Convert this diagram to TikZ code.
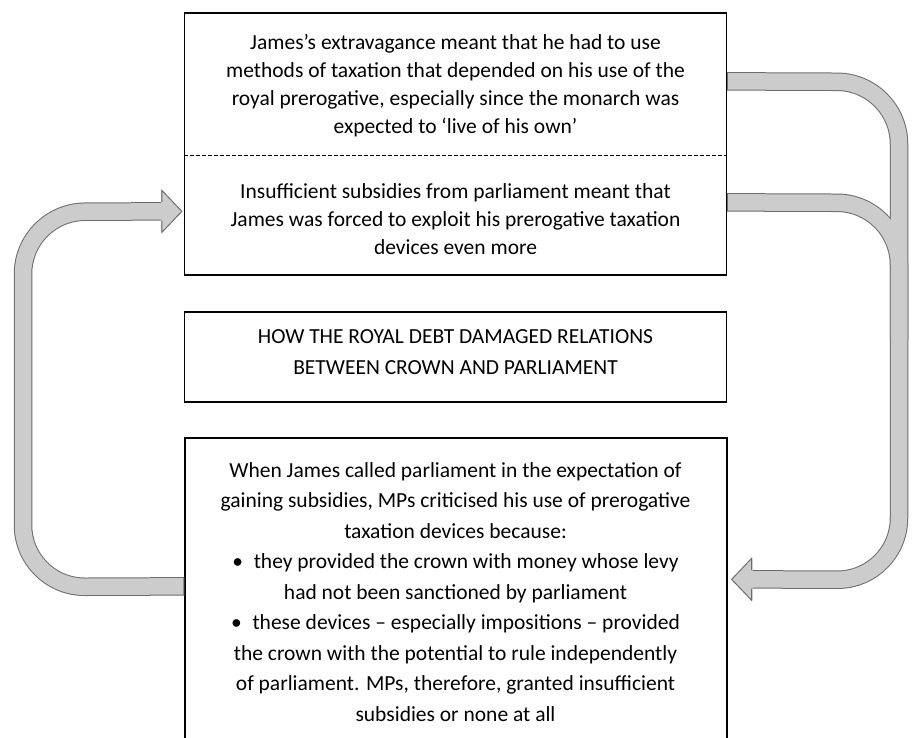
\documentclass[tikz,border=0pt]{standalone}
\usepackage{fontspec}
\setmainfont{Carlito}
\usetikzlibrary{calc}
\definecolor{bandedge}{gray}{0.42}
\definecolor{bandfill}{gray}{0.8}
\tikzset{
  x=1pt, y=-1pt,
  boxed/.style={draw, line width=1.3pt, inner sep=0pt, minimum width=542pt},
  txt/.style={align=center, inner sep=0pt, font=\fontsize{21.5}{28}\selectfont},
  txtb/.style={align=center, inner sep=0pt, font=\fontsize{21.5}{30.5}\selectfont},
  bandout/.style={line width=18.5pt, draw=bandedge, rounded corners=62pt},
  bandin/.style={line width=16.5pt, draw=bandfill, rounded corners=62pt},
  headstyle/.style={draw=bandedge, line width=1pt, line join=miter}
}
\begin{document}
\begin{tikzpicture}
\useasboundingbox (0,0) rectangle (912,737);
% boxes
\node[boxed, minimum height=262pt] (topbox) at (455.5,144) {};
\node[boxed, minimum height=90pt] (midbox) at (455.5,357) {};
\node[boxed, minimum height=310pt] (botbox) at (456,593) {};
% separator
\coordinate (sep) at (455.5,155);
\draw[dashed, line width=0.9pt, dash pattern=on 4pt off 2pt] (topbox.west |- sep) -- (topbox.east |- sep);
% texts
\node[txt] (t1) at (455.5,86) {James’s extravagance meant that he had to use\\methods of taxation that depended on his use of the\\royal prerogative, especially since the monarch was\\expected to ‘live of his own’};
\node[txt] (t2) at (455.5,219) {Insufficient subsidies from parliament meant that\\James was forced to exploit his prerogative taxation\\devices even more};
\node[txtb] (head) at (455.5,352) {HOW THE ROYAL DEBT DAMAGED RELATIONS\\BETWEEN CROWN AND PARLIAMENT};
\node[txtb] (t3) at (455.5,592) {When James called parliament in the expectation of\\gaining subsidies, MPs criticised his use of prerogative\\taxation devices because:\\\textbullet\enspace they provided the crown with money whose levy\\had not been sanctioned by parliament\\\textbullet\enspace these devices – especially impositions – provided\\the crown with the potential to rule independently\\of parliament. MPs, therefore, granted insufficient\\subsidies or none at all};
% band anchor coordinates
\coordinate (r1s) at ($(topbox.north east)+(0,69)$);
\coordinate (r2s) at ($(topbox.north east)+(0,190)$);
\coordinate (rtip) at ($(botbox.north east)+(4,142)$);
\coordinate (rend) at ($(rtip)+(20,0)$);
\coordinate (lst) at ($(botbox.north west)+(0,149)$);
\coordinate (ltip) at ($(topbox.north west)+(-2,199)$);
\coordinate (lend) at ($(ltip)+(-20,0)$);
% bands: outer pass
\draw[bandout] (r2s) -- (899,203) -- (899,340);
\draw[bandout] (r1s) -- (899,82) -- (899,580) -- (rend);
\draw[bandout] (lst) -- (23,587) -- (23,212) -- (lend);
% bands: inner pass
\draw[bandin] ([xshift=1pt]r2s) -- (899,203) -- (899,340);
\draw[bandin] ([xshift=1pt]r1s) -- (899,82) -- (899,580) -- (rend);
\draw[bandin] ([xshift=-1pt]lst) -- (23,587) -- (23,212) -- (lend);
% arrow heads
\fill[bandfill] ($(rend)+(1,-9.2)$) -- ($(rend)+(1,-21)$) -- (rtip) -- ($(rend)+(1,21)$) -- ($(rend)+(1,9.2)$) -- cycle;
\draw[headstyle] ($(rend)+(0,-9.2)$) -- ($(rend)+(0,-21)$) -- (rtip) -- ($(rend)+(0,21)$) -- ($(rend)+(0,9.2)$);
\fill[bandfill] ($(lend)+(-1,-9.2)$) -- ($(lend)+(-1,-21)$) -- (ltip) -- ($(lend)+(-1,21)$) -- ($(lend)+(-1,9.2)$) -- cycle;
\draw[headstyle] ($(lend)+(0,-9.2)$) -- ($(lend)+(0,-21)$) -- (ltip) -- ($(lend)+(0,21)$) -- ($(lend)+(0,9.2)$);
\end{tikzpicture}
\end{document}
